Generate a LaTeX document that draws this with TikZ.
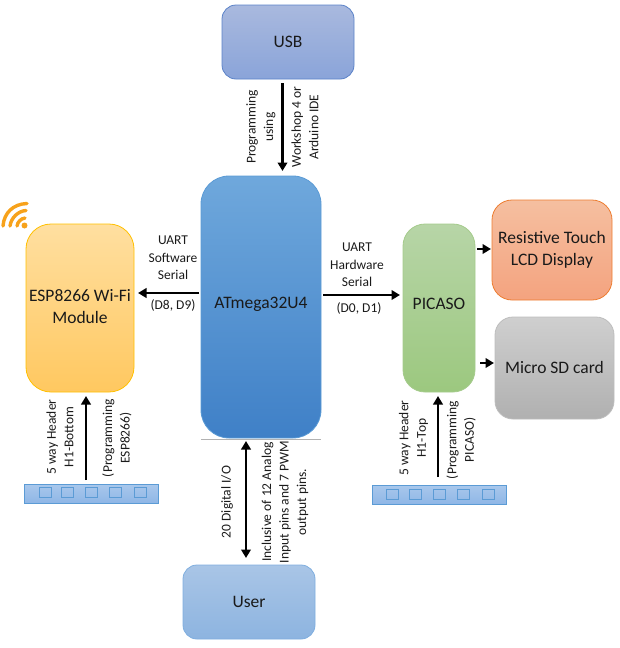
\documentclass[tikz,border=0pt]{standalone}
\usepackage{fontspec}
\setmainfont{Carlito}
\usetikzlibrary{arrows.meta,calc}
\definecolor{txt}{HTML}{1A1A1A}
\definecolor{usbT}{HTML}{A9B9DE}\definecolor{usbB}{HTML}{8AA4D9}\definecolor{usbL}{HTML}{5B82C8}
\definecolor{mainT}{HTML}{6FA8DC}\definecolor{mainB}{HTML}{3F80C7}\definecolor{mainL}{HTML}{5B9BD5}
\definecolor{espT}{HTML}{FFDFA0}\definecolor{espB}{HTML}{FFC860}\definecolor{espL}{HTML}{FFC000}
\definecolor{picT}{HTML}{B7D5A7}\definecolor{picB}{HTML}{9CC87F}\definecolor{picL}{HTML}{A5CB8C}
\definecolor{lcdT}{HTML}{F5BFA0}\definecolor{lcdB}{HTML}{F4A37F}\definecolor{lcdL}{HTML}{ED7D31}
\definecolor{sdT}{HTML}{CFCFCF}\definecolor{sdB}{HTML}{B0B0B0}\definecolor{sdL}{HTML}{BDBDBD}
\definecolor{usrT}{HTML}{A9C5E6}\definecolor{usrB}{HTML}{8DB4E0}\definecolor{usrL}{HTML}{7FAEDF}
\definecolor{hdrT}{HTML}{A9C8EC}\definecolor{hdrB}{HTML}{8FB6E6}\definecolor{hdrL}{HTML}{5B9BD5}
\definecolor{wifi}{HTML}{F7A21B}
\newcommand{\up}[2]{\raisebox{#1pt}{#2}}
\tikzset{
  x=1pt,y=-1pt,
  block/.style={rectangle,inner sep=0pt,outer sep=0pt,align=center,text=txt,font=\fontsize{17.5}{22}\selectfont,line width=0.8pt},
  pin/.style={rectangle,inner sep=0pt,outer sep=0pt,minimum width=12pt,minimum height=10pt,draw=hdrL,line width=0.8pt},
  header/.style={block,minimum width=134pt,minimum height=19pt,draw=hdrL,top color=hdrT,bottom color=hdrB},
  lab/.style={inner sep=0pt,align=center,text=txt,font=\fontsize{13.5}{17.5}\selectfont},
  vlab/.style={lab,rotate=90},
  arr/.style={line width=2.3pt,-{Triangle[length=8.5pt,width=9.5pt]}},
  darr/.style={line width=2.3pt,{Triangle[length=8.5pt,width=9.5pt]}-{Triangle[length=8.5pt,width=9.5pt]}},
  wave/.style={draw=wifi,line width=3.4pt,line cap=round},
}
\begin{document}
\begin{tikzpicture}
\useasboundingbox (0,0) rectangle (620,648);
% blocks
\node[block,minimum width=132pt,minimum height=74pt,rounded corners=14pt,draw=usbL,top color=usbT,bottom color=usbB] (usb) at (288,42) {\up{1}{USB}};
\node[block,minimum width=120pt,minimum height=262pt,rounded corners=28pt,draw=mainL,top color=mainT,bottom color=mainB] (mcu) at (261,307) {\up{8}{ATmega32U4}};
\node[block,minimum width=108pt,minimum height=168pt,rounded corners=25pt,draw=espL,top color=espT,bottom color=espB] (esp) at (80,308) {\up{4}{ESP8266 Wi-Fi}\\\up{4}{Module}};
\node[block,minimum width=72pt,minimum height=168pt,rounded corners=22pt,draw=picL,top color=picT,bottom color=picB] (pic) at (439,308) {\up{8}{PICASO}};
\node[block,minimum width=120pt,minimum height=100pt,rounded corners=20pt,draw=lcdL,top color=lcdT,bottom color=lcdB] (lcd) at (552,250) {Resistive Touch\\LCD Display};
\node[block,minimum width=119pt,minimum height=102pt,rounded corners=18pt,draw=sdL,top color=sdT,bottom color=sdB] (sd) at (554.5,368) {\up{2}{Micro SD card}};
\node[block,minimum width=132pt,minimum height=74pt,rounded corners=14pt,draw=usrL,top color=usrT,bottom color=usrB] (usr) at (249,602) {\up{1}{User}};
% headers
\node[header] (hl) at (91,493.5) {};
\foreach \n/\x in {1/45,2/67.5,3/91,4/115,5/140.5} \node[pin] (hl\n) at (\x,492) {};
\node[header] (hr) at (439,494.5) {};
\foreach \n/\x in {1/392.5,2/415.5,3/439,4/463,5/488} \node[pin] (hr\n) at (\x,494) {};
% main shadow line
\draw[black!30,line width=0.8pt] ([yshift=-1.5pt]mcu.south west) -- ([yshift=-1.5pt]mcu.south east);
% connectors
\draw[arr] ([xshift=-5.5pt,yshift=-4pt]usb.south) -- ([xshift=21.5pt,yshift=5pt]mcu.north);
\draw[arr] ([xshift=-2pt,yshift=14pt]mcu.west) -- ([xshift=4pt,yshift=15pt]esp.east);
\draw[arr] ([xshift=2pt,yshift=12pt]mcu.east) -- ([xshift=-3pt,yshift=13pt]pic.west);
\draw[arr] ([xshift=2pt,yshift=59pt]pic.east) -- ([xshift=-1pt,yshift=1pt]lcd.west);
\draw[arr] ([xshift=5pt,yshift=-55pt]pic.east) -- ([xshift=-1pt,yshift=5pt]sd.west);
\draw[arr] ([xshift=-5pt,yshift=4pt]hl.north) -- ([xshift=6pt,yshift=-4pt]esp.south);
\draw[arr] ([xshift=-1pt,yshift=8pt]hr.north) -- ([xshift=-1pt,yshift=-4pt]pic.south);
\draw[darr] ([xshift=-15pt,yshift=-3pt]mcu.south) -- ([xshift=-3pt,yshift=7pt]usr.north);
% labels
\node[vlab] (l1) at (261,127) {Programming\\using};
\node[vlab] (l2) at (305,127) {Workshop 4 or\\Arduino IDE};
\node[lab] (l3) at (173,258) {UART\\Software\\Serial};
\node[lab] (l4) at (173,305) {(D8, D9)};
\node[lab] (l5) at (357,265) {UART\\Hardware\\Serial};
\node[lab] (l6) at (359,308) {(D0, D1)};
\node[vlab] (l7) at (60,437) {5 way Header\\H1-Bottom};
\node[vlab] (l8) at (117,438) {(Programming\\ESP8266)};
\node[vlab] (l9) at (413.5,438) {5 way Header\\H1-Top};
\node[vlab] (l10) at (461,440) {(Programming\\PICASO)};
\node[vlab] (l11) at (227,502) {20 Digital I/O};
\node[vlab] (l12) at (285,502) {Inclusive of 12 Analog\\Input pins and 7 PWM\\output pins.};
% wifi icon
\fill[wifi] (24.5,225.5) circle[radius=3pt];
\draw[wave] (3,226) .. controls (4,213) and (13,204) .. (27,203.5);
\draw[wave] (10,226) .. controls (11,218) and (18,211) .. (26,210.5);
\draw[wave] (17,226) .. controls (17.5,222) and (21,218.5) .. (25,218);
\end{tikzpicture}
\end{document}
